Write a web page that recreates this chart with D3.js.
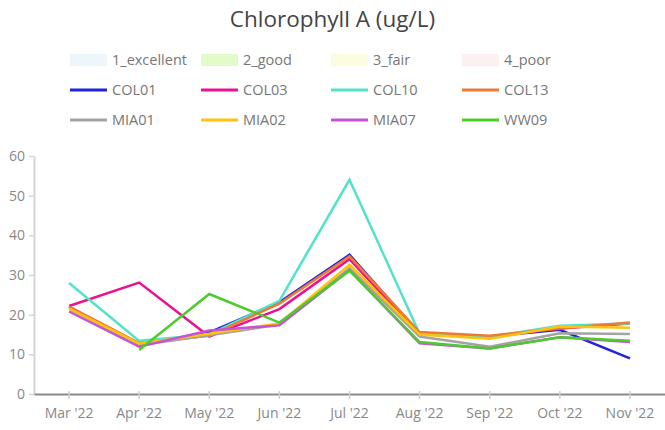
<!DOCTYPE html>
<html>
<head>
<meta charset="utf-8">
<script src="https://cdn.jsdelivr.net/npm/d3@7"></script>
<style>
  body { margin: 0; background: #fff; }
  svg { display: block; font-family: "Open Sans", sans-serif; }
</style>
</head>
<body>
<div id="chart"></div>
<script>
const months = ["Mar '22", "Apr '22", "May '22", "Jun '22", "Jul '22", "Aug '22", "Sep '22", "Oct '22", "Nov '22"];

const COL01 = [22, 12.5, 15.5, 23.1, 35.1, 15.2, 14.5, 16.2, 9.0];
const COL03 = [22.2, 28.1, 14.5, 21.4, 34, 15, 14.5, 16.5, 17.8];
const COL10 = [28, 13.4, 15, 23.5, 54, 15.2, 14.4, 17.2, 17.8];
const COL13 = [22, 12.8, 14.7, 22.8, 34.7, 15.6, 14.7, 16.5, 18.0];
const MIA01 = [21.5, 12.3, 14.8, 17.5, 31.7, 14.5, 11.9, 15.3, 15.1];
const MIA02 = [21.5, 12.7, 15.2, 17.8, 32.6, 15, 13.9, 17, 16.7];
const MIA07 = [20.8, 11.9, 16, 17.3, 31.2, 12.8, 11.5, 14.3, 13.1];
const WW09 = [null, 11.1, 25.2, 18.0, 31.1, 13.1, 11.5, 14.3, 13.4];

const yTicks = [0, 10, 20, 30, 40, 50, 60];

const bands = [
  { name: "1_excellent", color: "#edf6fa" },
  { name: "2_good", color: "#e2fcc9" },
  { name: "3_fair", color: "#fcfde0" },
  { name: "4_poor", color: "#fcf0f0" }
];

const series = [
  { name: "COL01", color: "#2323dc", values: COL01 },
  { name: "COL03", color: "#ea1294", values: COL03 },
  { name: "COL10", color: "#52e3c9", values: COL10 },
  { name: "COL13", color: "#ee7b34", values: COL13 },
  { name: "MIA01", color: "#a3a3a3", values: MIA01 },
  { name: "MIA02", color: "#ffc20e", values: MIA02 },
  { name: "MIA07", color: "#c552d8", values: MIA07 },
  { name: "WW09", color: "#4ccc2a", values: WW09 }
];

const width = 665, height = 430;
const margin = { top: 156, right: 0, bottom: 36, left: 34 };

const svg = d3.select("#chart").append("svg")
  .attr("width", width)
  .attr("height", height);

// Title
svg.append("text")
  .attr("x", width / 2)
  .attr("y", 27)
  .attr("text-anchor", "middle")
  .attr("font-size", "22.5px")
  .attr("fill", "#444")
  .text("Chlorophyll A (ug/L)");

// Legend
const colX = [70, 201, 331, 462];
const rowY = [60, 90, 120];
const legendItems = bands.map(d => ({ ...d, type: "box" }))
  .concat(series.map(d => ({ name: d.name, color: d.color, type: "line" })));

const legend = svg.append("g")
  .selectAll("g")
  .data(legendItems)
  .join("g")
  .attr("transform", (d, i) => `translate(${colX[i % 4]},${rowY[Math.floor(i / 4)]})`);

legend.filter(d => d.type === "box").append("rect")
  .attr("x", 0).attr("y", -6)
  .attr("width", 37).attr("height", 12)
  .attr("fill", d => d.color);

legend.filter(d => d.type === "line").append("line")
  .attr("x1", 0).attr("x2", 37)
  .attr("y1", 0).attr("y2", 0)
  .attr("stroke", d => d.color)
  .attr("stroke-width", 3);

legend.append("text")
  .attr("x", 42)
  .attr("y", 0)
  .attr("dy", "0.35em")
  .attr("font-size", "14.5px")
  .attr("fill", "#777")
  .text(d => d.name);

// Scales
const x = d3.scaleBand()
  .domain(months)
  .range([margin.left, width - margin.right]);

const y = d3.scaleLinear()
  .domain([0, 60])
  .range([height - margin.bottom, margin.top]);

// Y axis
const yAxis = svg.append("g")
  .attr("transform", `translate(${margin.left},0)`)
  .call(d3.axisLeft(y).tickValues(yTicks).tickSize(5).tickSizeOuter(0).tickPadding(4));
yAxis.select(".domain").attr("stroke", "#d4d4d4").attr("stroke-width", 2);
yAxis.selectAll(".tick line").attr("stroke", "#d4d4d4").attr("stroke-width", 1.5);
yAxis.selectAll(".tick text")
  .attr("fill", "#888")
  .attr("font-size", "14px")
  .attr("font-family", "Open Sans, sans-serif");

// X axis
const xAxis = svg.append("g")
  .attr("transform", `translate(0,${height - margin.bottom})`)
  .call(d3.axisBottom(x).tickSize(5).tickSizeOuter(0).tickPadding(9));
xAxis.select(".domain").attr("stroke", "#8a8a8a").attr("stroke-width", 2);
xAxis.selectAll(".tick line").attr("stroke", "#cfcfcf").attr("stroke-width", 1.5).attr("y1", -3);
xAxis.selectAll(".tick text")
  .attr("fill", "#888")
  .attr("font-size", "14px")
  .attr("font-family", "Open Sans, sans-serif");

// Lines
const line = d3.line()
  .defined(d => d.v != null)
  .x(d => x(d.m) + x.bandwidth() / 2)
  .y(d => y(d.v));

svg.append("g")
  .selectAll("path")
  .data(series)
  .join("path")
  .attr("fill", "none")
  .attr("stroke", d => d.color)
  .attr("stroke-width", 2.5)
  .attr("stroke-linejoin", "miter")
  .attr("d", d => line(d.values.map((v, i) => ({ m: months[i], v }))));
</script>
</body>
</html>
